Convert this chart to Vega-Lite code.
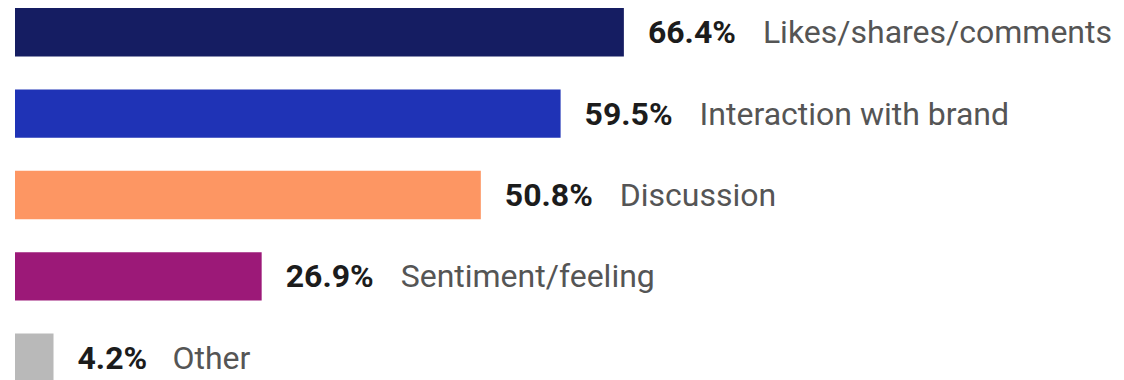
{
  "$schema": "https://vega.github.io/schema/vega-lite/v6.json",
  "width": 1109,
  "height": 374,
  "autosize": {"type": "none"},
  "padding": {"left": 15, "top": 8, "right": 0, "bottom": 0},
  "background": "white",
  "config": {"view": {"stroke": null}},
  "data": {
    "values": [
      {"category": "Likes/shares/comments", "value": 66.4, "pct": "66.4%"},
      {"category": "Interaction with brand", "value": 59.5, "pct": "59.5%"},
      {"category": "Discussion", "value": 50.8, "pct": "50.8%"},
      {"category": "Sentiment/feeling", "value": 26.9, "pct": "26.9%"},
      {"category": "Other", "value": 4.2, "pct": "4.2%"}
    ]
  },
  "encoding": {
    "y": {
      "field": "category",
      "type": "nominal",
      "sort": null,
      "axis": null,
      "scale": {"paddingInner": 0.404, "paddingOuter": 0}
    },
    "x": {
      "field": "value",
      "type": "quantitative",
      "axis": null,
      "scale": {"domain": [0, 120.94], "nice": false, "zero": true}
    }
  },
  "layer": [
    {
      "mark": {"type": "bar", "cornerRadius": 0},
      "encoding": {
        "color": {
          "field": "category",
          "type": "nominal",
          "legend": null,
          "scale": {
            "domain": ["Likes/shares/comments", "Interaction with brand", "Discussion", "Sentiment/feeling", "Other"],
            "range": ["#151d62", "#1f33b6", "#fd9663", "#9c1978", "#b9b9b9"]
          }
        }
      }
    },
    {
      "mark": {"type": "text", "align": "left", "baseline": "middle", "dx": 24, "dy": 1, "font": "Roboto", "fontSize": 32, "fontWeight": "bold", "color": "#1c1c1c"},
      "encoding": {"text": {"field": "pct"}}
    },
    {
      "transform": [{"filter": "datum.value >= 10"}],
      "mark": {"type": "text", "align": "left", "baseline": "middle", "dx": 139, "dy": 1, "font": "Roboto", "fontSize": 32, "fontWeight": "normal", "color": "#555555"},
      "encoding": {"text": {"field": "category"}}
    },
    {
      "transform": [{"filter": "datum.value < 10"}],
      "mark": {"type": "text", "align": "left", "baseline": "middle", "dx": 119, "dy": 1, "font": "Roboto", "fontSize": 32, "fontWeight": "normal", "color": "#555555"},
      "encoding": {"text": {"field": "category"}}
    }
  ]
}
